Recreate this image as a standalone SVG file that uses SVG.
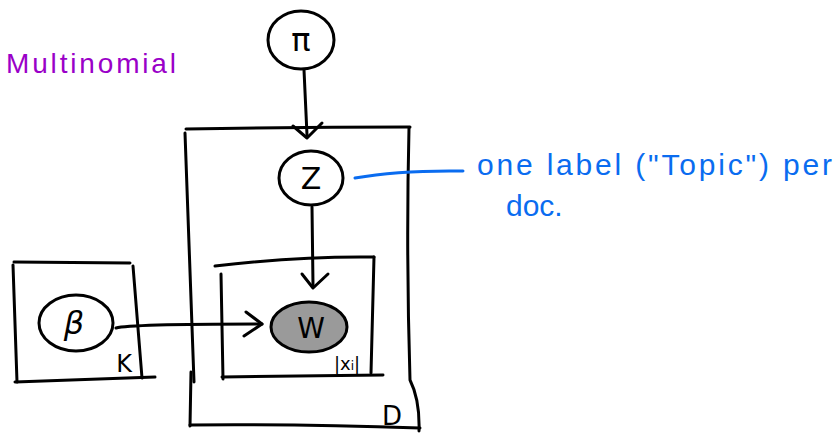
<svg xmlns="http://www.w3.org/2000/svg" width="838" height="439" viewBox="0 0 838 439">
  <style>
    .ink { fill: none; stroke: #000; stroke-width: 3; stroke-linecap: round; stroke-linejoin: round; }
    .node { fill: #fff; stroke: #000; stroke-width: 3; }
    .obs { fill: #9a9a9a; stroke: #000; stroke-width: 3; }
    .sym { font-family: "DejaVu Sans", sans-serif; fill: #000; text-anchor: middle; }
    .note { font-family: "Liberation Sans", sans-serif; fill: #0a6cf0; }
    .title { font-family: "Liberation Sans", sans-serif; fill: #9a00c8; }
  </style>
  <rect width="838" height="439" fill="#fff"/>

  <text class="title" x="6" y="73" font-size="28" textLength="170" lengthAdjust="spacing">Multinomial</text>

  <!-- plates -->
  <g id="plate-D">
    <path class="ink" d="M186,129 Q300,127 410,127"/>
    <path class="ink" d="M185,133 L194,382"/>
    <path class="ink" d="M191,372 L190,426"/>
    <path class="ink" d="M190,425 Q300,424 420,428"/>
    <path class="ink" d="M409,128 Q406,250 410,380 Q420,400 419,431"/>
    <text class="sym" x="392" y="425" font-size="26">D</text>
  </g>
  <g id="plate-X">
    <path class="ink" d="M215,266 Q300,256 374,257"/>
    <path class="ink" d="M221,274 L223,379"/>
    <path class="ink" d="M222,377 L383,375"/>
    <path class="ink" d="M374,257 L371,373"/>
    <text class="sym" x="347" y="370" font-size="18">|x<tspan font-size="12">i</tspan>|</text>
  </g>
  <g id="plate-K">
    <path class="ink" d="M14,262 L130,263"/>
    <path class="ink" d="M13,265 L17,382"/>
    <path class="ink" d="M15,382 L155,377"/>
    <path class="ink" d="M133,266 L142,378"/>
    <text class="sym" x="124" y="372" font-size="24">K</text>
  </g>

  <!-- connectors -->
  <g id="edges">
    <path class="ink" d="M304,70 L307,135"/>
    <path class="ink" d="M293,126 L307,138 L322,123"/>
    <path class="ink" d="M312,207 L313,285"/>
    <path class="ink" d="M302,274 L313,288 L328,274"/>
    <path class="ink" d="M116,328 Q130,324 262,324"/>
    <path class="ink" d="M246,312 L262,324 L244,336"/>
    <path fill="none" stroke="#0a6cf0" stroke-width="3" stroke-linecap="round" d="M355,178 Q400,170 463,171"/>
  </g>

  <!-- nodes -->
  <g id="node-pi">
    <ellipse class="node" cx="301" cy="40" rx="33" ry="29"/>
    <text class="sym" x="301" y="51" font-size="32">π</text>
  </g>
  <g id="node-z">
    <ellipse class="node" cx="311" cy="178" rx="32" ry="27"/>
    <text class="sym" x="311" y="189" font-size="30">Z</text>
  </g>
  <g id="node-w">
    <ellipse class="obs" cx="309" cy="327" rx="38" ry="25"/>
    <text class="sym" x="311" y="338" font-size="28">W</text>
  </g>
  <g id="node-beta">
    <ellipse class="node" cx="76" cy="323" rx="37" ry="28"/>
    <text class="sym" x="74" y="334" font-size="32" font-style="italic">β</text>
  </g>

  <text class="note" x="477" y="175" font-size="30" textLength="355" lengthAdjust="spacing">one label ("Topic")  per</text>
  <text class="note" x="506" y="216" font-size="30">doc.</text>
</svg>
